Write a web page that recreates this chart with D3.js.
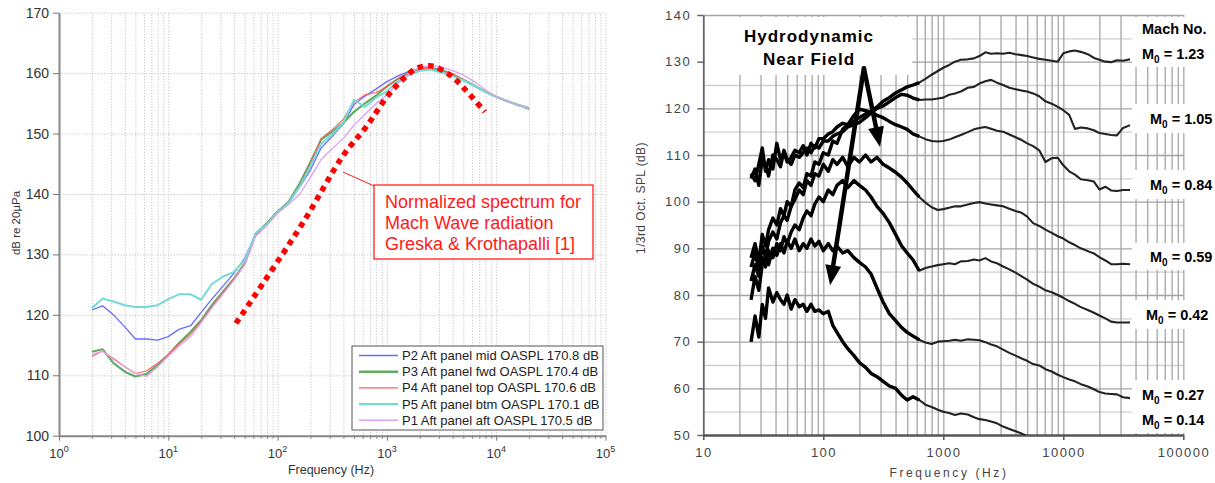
<!DOCTYPE html>
<html><head><meta charset="utf-8">
<script src="https://cdn.jsdelivr.net/npm/d3@7"></script>
<style>
body{margin:0;background:#fff}
svg{display:block}
text{font-family:Arial,"Liberation Sans",sans-serif}
</style>
</head><body>
<svg id="c" width="1215" height="483"></svg>
<script>
// ---------------- LEFT CHART DATA ----------------
const leftFreq = [2,2.5,3.15,4,5,6.3,8,10,12.5,16,20,25,31.5,40,50,63,80,100,125,160,200,250,315,400,500,630,800,1000,1250,1600,2000,2500,3150,4000,5000,6300,8000,10000,12500,16000,20000];
const p2Mid = [120.8,121.5,120.0,118.0,116.0,116.0,115.8,116.4,117.6,118.2,120.4,122.6,124.7,126.9,129.4,133.3,135.0,137.0,138.5,141.2,144.0,147.6,149.5,151.6,154.8,156.2,157.4,158.6,159.5,160.3,160.8,160.9,160.6,159.8,158.9,157.9,156.9,156.1,155.4,154.7,154.0];
const p3Fwd = [113.9,114.3,112.0,110.6,109.8,110.2,111.7,113.4,115.3,117.2,119.1,121.6,123.8,126.0,128.5,133.4,135.2,137.1,138.6,141.8,145.3,149.0,150.3,151.8,153.6,155.0,156.3,157.8,159.0,160.1,160.7,160.8,160.5,159.8,158.9,157.9,156.9,156.1,155.4,154.7,154.2];
const p4Top = [113.1,114.0,112.8,111.4,110.3,110.7,112.0,113.4,115.1,116.8,118.9,121.3,123.6,125.9,128.4,133.3,135.1,137.0,138.5,141.5,145.0,149.2,150.6,152.4,155.2,156.4,156.8,157.8,159.0,160.1,160.7,160.8,160.4,159.8,158.9,157.9,156.9,156.1,155.4,154.7,154.2];
const p5Btm = [121.1,122.7,122.2,121.6,121.3,121.3,121.6,122.6,123.4,123.4,122.5,125.1,126.3,127.1,129.1,133.5,135.0,137.0,138.4,141.3,144.6,148.3,149.8,151.8,155.6,154.4,156.0,157.0,158.6,159.7,160.4,160.6,160.1,159.5,158.8,157.9,156.9,156.1,155.4,154.7,154.2];
const p1Aft = [113.4,114.0,112.6,111.4,110.3,109.8,111.4,113.2,114.8,116.4,118.7,121.1,123.4,125.8,128.3,133.0,134.8,136.8,138.2,140.0,142.8,145.7,147.5,149.2,151.4,153.2,155.0,156.4,158.2,160.0,160.9,161.3,161.0,160.4,159.7,158.6,157.2,156.1,155.4,154.7,154.2];
const legendNames = ["P2 Aft panel mid OASPL 170.8 dB","P3 Aft panel fwd OASPL 170.4 dB","P4 Aft panel top OASPL 170.6 dB","P5 Aft panel btm OASPL 170.1 dB","P1 Aft panel aft OASPL 170.5 dB"];
const greskaFreq = [41.6,166,396,653,1002,1403,1875,2570,3260,4027,4834,5757,7890];
const greskaDb = [118.6,134.9,146.3,151.2,156.1,159.0,160.8,161.2,160.4,159.3,157.9,156.4,153.6];
const leftYTicks = [100,110,120,130,140,150,160,170];
const leftXDecades = [1,10,100,1000,10000,100000];
const leftXExp = ["0","1","2","3","4","5"];
const noteLines = ["Normalized spectrum for","Mach Wave radiation","Greska & Krothapalli [1]"];

// ---------------- RIGHT CHART DATA ----------------
const rightFreq = [25,27,29,31,33,35,38,41,44,47,50,54,58,63,68,73,79,85,92,100,110,120,130,145,160,180,200,225,250,280,315,355,400,450,500,560,630,710,800,900,1000,1120,1250,1400,1600,1800,2000,2240,2500,2800,3150,3550,4000,4500,5000,5600,6300,7100,8000,9000,10000,11200,12500,14000,16000,18000,20000,22400,25000,28000,31500,36000];
const m123 = [106,104.5,108,111.5,106.5,109,107,112.5,109,110.5,108.5,109.5,111,110.5,112,110,112.5,111.5,113.5,113.5,114.5,115,116,116.8,116.5,117.2,118,118.8,119.3,120.3,121.5,122.3,123.3,124,124.6,125,125.5,126.3,127.2,128,128.7,129.3,130,130.4,130.5,130.7,131.2,132,131.7,131.8,131.7,131.9,131.6,131.4,131.2,130.9,130.6,130.4,130.2,130.0,131.8,132.2,132.4,132.1,131.6,130.8,130.4,130.0,129.9,130.3,130.2,130.5];
const m105 = [105,107,103.5,109,108,105.5,110,109,107.5,111,109,108,110,109.5,110.5,111.5,110.5,112,111.5,113,113,114,114.5,115,116,116.5,117,118,119,120,120.5,121.4,122.3,123,122.8,122.2,121.8,121.9,121.9,122.1,122.3,122.9,123.2,123.6,124.4,124.6,125.3,125.8,126.1,125.5,125,124.4,124.1,123.8,123.6,123.2,122.6,121.5,121.0,120.3,119.6,118.6,115.6,115.9,115.7,115.3,114.7,114.5,114.3,114.2,115.8,116.4];
const m084 = [88,91,87,93,90.5,94,96.5,95,98.5,97,100,99,102.5,104,103,106,105.5,108.5,108,110.5,110,113,112.5,115.5,116.5,118.5,119.8,119.5,119.2,118.5,118,117.2,116.5,116,115.5,114.5,114,113.4,113,112.9,113,113.3,113.8,114.3,114.9,115.5,115.8,116.0,115.6,115.2,115.0,114.4,113.8,113.2,112.5,111.9,111.0,108.5,109.3,109.4,107.8,106.5,105.8,104.8,104.6,104.3,102.6,103.2,102.4,102.3,102.5,102.5];
const m059 = [86,89,85.5,90.5,88,91.5,93.5,92,95.5,97,96,99,100.5,102.5,101.5,104.5,103.5,106,105.5,108,106.5,109,108,109.5,107.5,109.5,108.5,110,108.5,109.5,108,107.2,106.3,105.2,104,102.5,101,99.8,98.8,98.2,98.4,98.7,99.0,99.0,99.4,99.7,99.9,99.6,99.4,99.2,99.0,98.5,98.0,97.6,96.8,95.4,94.8,94.0,93.3,92.6,92.1,91.3,90.7,90.0,89.4,88.9,88.1,87.4,86.6,86.6,86.7,86.6];
const m042 = [83,86.5,84,88,86,89.5,88,91,89.5,92.5,91,93.5,95,94,96.5,98,97,99.5,101,100,102.5,101.5,103.5,104.5,103,104.5,103.5,102.5,101,99,97.5,95.5,93,90.5,89,87.5,85.2,85.8,86.1,86.4,86.6,86.8,86.6,87.2,87.3,87.6,87.4,87.9,87.2,86.8,86.1,85.5,84.8,84.0,83.3,82.4,81.8,81.0,80.6,80.0,79.4,78.7,78.1,77.4,76.8,76.2,75.6,75.0,74.3,74.1,74.1,74.1];
const m027 = [79,84,81,86.5,88,86.5,90,88.5,91,89,91.5,90,92,89.5,91,90,92,90.5,91.5,89.5,91,89.5,90.5,89,89.5,88,87,86,84.5,81.5,78.5,76,74.5,73,72,71.2,70.4,69.8,69.5,70,70.1,70.2,70.4,70.2,70.5,70.4,70.3,69.9,69.4,69.0,68.3,67.6,67.0,66.4,65.9,65.2,64.9,64.1,63.6,62.9,62.4,61.9,61.5,60.9,60.4,59.8,59.2,58.9,58.8,58.7,58.1,57.9];
const m014 = [70,75.5,71,78,75,81.5,78.5,80.5,79,78,80,77,79,77.5,78,76.5,78,76.5,76.8,76,76.5,73.5,72,70,68.5,67,65.5,64.5,63.2,62.5,61.5,60.5,60,58.5,57.5,58.2,57.5,56.5,56,55.4,55,54.7,54.3,54.6,54.4,53.8,53.4,53.2,52.9,52.5,51.8,51.3,50.8,50.3,49.8];
const machValues = ["1.23","1.05","0.84","0.59","0.42","0.27","0.14"];
const rightYTicks = [50,60,70,80,90,100,110,120,130,140];
const rightXTicks = [10,100,1000,10000,100000];

// ---------------- DRAW ----------------
const svg = d3.select("#c");
svg.append("rect").attr("width",1215).attr("height",483).attr("fill","#fff");

// LEFT
const L = {x0:59, x1:605.5, y0:12.7, y1:435.7};
const xL = d3.scaleLog().domain([1,1e5]).range([L.x0,L.x1]);
const yL = d3.scaleLinear().domain([100,170]).range([L.y1,L.y0]);
const gL = svg.append("g");

gL.append("g").attr("transform",`translate(0,${L.y1})`)
  .call(d3.axisBottom(xL).tickValues(xL.ticks()).tickSize(-(L.y1-L.y0)).tickFormat(""))
  .call(g=>g.select(".domain").remove())
  .selectAll("line").attr("stroke","#bdbdbd").attr("stroke-width",0.9).attr("stroke-dasharray","1.2,1.6");
gL.append("g").attr("transform",`translate(${L.x0},0)`)
  .call(d3.axisLeft(yL).tickValues(leftYTicks).tickSize(-(L.x1-L.x0)).tickFormat(""))
  .call(g=>g.select(".domain").remove())
  .selectAll("line").attr("stroke","#bdbdbd").attr("stroke-width",0.9).attr("stroke-dasharray","1.2,1.6");

const minorL = xL.ticks().filter(v=>!leftXDecades.includes(v));
gL.append("g").attr("transform",`translate(0,${L.y1})`)
  .call(d3.axisBottom(xL).tickValues(minorL).tickSize(3).tickFormat(""))
  .call(g=>g.select(".domain").remove())
  .selectAll("line").attr("stroke","#777");
const axB = gL.append("g").attr("transform",`translate(0,${L.y1})`)
  .call(d3.axisBottom(xL).tickValues(leftXDecades).tickSize(5).tickSizeOuter(0).tickFormat(""));
axB.select(".domain").attr("stroke","#888").attr("stroke-width",2);
axB.selectAll(".tick line").attr("stroke","#777");
leftXDecades.forEach((v,i)=>{
  const t = gL.append("text").attr("x",xL(v)).attr("y",458).attr("text-anchor","middle")
    .attr("font-size",13).attr("fill","#333");
  t.append("tspan").text("10");
  t.append("tspan").attr("dy",-6).attr("font-size",9).text(leftXExp[i]);
});
const axL = gL.append("g").attr("transform",`translate(${L.x0},0)`)
  .call(d3.axisLeft(yL).tickValues(leftYTicks).tickSize(6).tickSizeOuter(0).tickPadding(4));
axL.select(".domain").attr("stroke","#888").attr("stroke-width",2);
axL.selectAll(".tick line").attr("stroke","#777");
axL.selectAll(".tick text").attr("font-size",14).attr("fill","#333").attr("font-family","Arial,'Liberation Sans',sans-serif");

gL.append("text").attr("transform",`translate(20,223) rotate(-90)`).attr("text-anchor","middle")
  .attr("font-size",11.5).attr("fill","#333").text("dB re 20\u00B5Pa");
gL.append("text").attr("x",331).attr("y",474).attr("text-anchor","middle")
  .attr("font-size",12.5).attr("fill","#333").text("Frequency (Hz)");

const leftSeries = [
  {vals:p2Mid, color:"#6b6bff", w:1.3, name:legendNames[0]},
  {vals:p3Fwd, color:"#62ab62", w:2.2, name:legendNames[1]},
  {vals:p4Top, color:"#ff5c5c", w:1.1, name:legendNames[2]},
  {vals:p5Btm, color:"#74d9d9", w:2.0, name:legendNames[3]},
  {vals:p1Aft, color:"#dca2ee", w:1.3, name:legendNames[4]}
];
const lineL = d3.line().x(d=>xL(d[0])).y(d=>yL(d[1]));
leftSeries.forEach(s=>{
  gL.append("path").attr("d",lineL(leftFreq.map((f,i)=>[f,s.vals[i]])))
    .attr("fill","none").attr("stroke",s.color).attr("stroke-width",s.w).attr("stroke-linejoin","round");
});

gL.append("path").attr("d",d3.line().curve(d3.curveCatmullRom).x(d=>xL(d[0])).y(d=>yL(d[1]))(greskaFreq.map((f,i)=>[f,greskaDb[i]])))
  .attr("fill","none").attr("stroke","#ff0000").attr("stroke-width",5.5).attr("stroke-dasharray","5.5,5");

gL.append("line").attr("x1",343).attr("y1",172).attr("x2",374).attr("y2",186).attr("stroke","#ff2020").attr("stroke-width",1);
gL.append("rect").attr("x",374).attr("y",185).attr("width",219).attr("height",74).attr("fill","#fff").attr("stroke","#ff2020").attr("stroke-width",1.3);
noteLines.forEach((t,i)=>gL.append("text").attr("x",385).attr("y",207.5+i*21).attr("font-size",18).attr("fill","#ff1a1a").text(t));

gL.append("rect").attr("x",352).attr("y",346).attr("width",251).attr("height",84).attr("fill","#fff").attr("stroke","#555").attr("stroke-width",1);
leftSeries.forEach((s,i)=>{
  const cy = 355.5 + i*16.2;
  gL.append("line").attr("x1",359).attr("x2",398).attr("y1",cy).attr("y2",cy).attr("stroke",s.color).attr("stroke-width",s.w+0.3);
  gL.append("text").attr("x",402).attr("y",cy+4.5).attr("font-size",13).attr("fill","#222").text(s.name);
});

// RIGHT
const R = {x0:703.3, x1:1183.3, y0:15, y1:435};
const xR = d3.scaleLog().domain([10,1e5]).range([R.x0,R.x1]);
const yR = d3.scaleLinear().domain([50,140]).range([R.y1,R.y0]);
const gR = svg.append("g");
const five = d3.range(50,141,5);
gR.append("g").attr("transform",`translate(${R.x0},0)`)
  .call(d3.axisLeft(yR).tickValues(five.filter(v=>v%10)).tickSize(-(R.x1-R.x0)).tickFormat(""))
  .call(g=>g.select(".domain").remove())
  .selectAll("line").attr("stroke","#cfcfcf").attr("stroke-width",1.4);
gR.append("g").attr("transform",`translate(0,${R.y1})`)
  .call(d3.axisBottom(xR).tickValues(xR.ticks().filter(v=>v>10)).tickSize(-(R.y1-R.y0)).tickFormat(""))
  .call(g=>g.select(".domain").remove())
  .selectAll("line").attr("stroke","#ababab").attr("stroke-width",1.4);
gR.append("g").attr("transform",`translate(${R.x0},0)`)
  .call(d3.axisLeft(yR).tickValues(rightYTicks.filter(v=>v>50)).tickSize(-(R.x1-R.x0)).tickFormat(""))
  .call(g=>g.select(".domain").remove())
  .selectAll("line").attr("stroke","#a3a3a3").attr("stroke-width",1.4);

gR.append("rect").attr("x",R.x0+1.5).attr("y",17).attr("width",xR(550)-R.x0-1.5).attr("height",58).attr("fill","#fff");
const boxes = [[17,67],[104,133],[170,199],[243,270],[300,329],[380,433]];
boxes.forEach(b=>gR.append("rect").attr("x",1132).attr("y",b[0]).attr("width",83).attr("height",b[1]-b[0]).attr("fill","#fff"));

const axRL = gR.append("g").attr("transform",`translate(${R.x0},0)`)
  .call(d3.axisLeft(yR).tickValues(rightYTicks).tickSize(6).tickSizeOuter(0).tickPadding(6));
axRL.select(".domain").attr("stroke","#666").attr("stroke-width",1.8);
axRL.selectAll(".tick line").attr("stroke","#666").attr("stroke-width",1.5);
axRL.selectAll(".tick text").attr("font-size",13).attr("fill","#444").attr("letter-spacing","1.5px")
  .attr("font-family","Arial,'Liberation Sans',sans-serif");
const axRB = gR.append("g").attr("transform",`translate(0,${R.y1})`)
  .call(d3.axisBottom(xR).tickValues(rightXTicks).tickSize(5).tickSizeOuter(0).tickFormat(""));
axRB.select(".domain").attr("stroke","#555").attr("stroke-width",2.5);
axRB.selectAll(".tick line").attr("stroke","#555").attr("stroke-width",1.5);
rightXTicks.forEach(v=>gR.append("text").attr("x",xR(v)+0.7).attr("y",457).attr("text-anchor","middle")
  .attr("font-size",13).attr("letter-spacing","1.5px").attr("fill","#444").text(String(v)));
gR.append("text").attr("x",949).attr("y",477).attr("text-anchor","middle").attr("font-size",12)
  .attr("letter-spacing","2.6px").attr("fill","#444").text("Frequency (Hz)");
gR.append("text").attr("transform",`translate(645,198) rotate(-90)`).attr("text-anchor","middle")
  .attr("font-size",12).attr("letter-spacing","0.4px").attr("fill","#444").text("1/3rd Oct. SPL (dB)");

svg.append("defs").append("clipPath").attr("id","rc").append("rect")
  .attr("x",R.x0).attr("y",R.y0).attr("width",R.x1-R.x0).attr("height",R.y1-R.y0);
const lineR = d3.line().x(d=>xR(d[0])).y(d=>yR(d[1]));
const curvesR = [m123,m105,m084,m059,m042,m027,m014];
const gC = gR.append("g").attr("clip-path","url(#rc)");
curvesR.forEach(vals=>{
  const pts = vals.map((v,i)=>[rightFreq[i],v]);
  gC.append("path").attr("d",lineR(pts))
    .attr("fill","none").attr("stroke","#222").attr("stroke-width",2.1).attr("stroke-linejoin","round");
  // noisier low-frequency portion drawn heavier, as in the scanned original
  gC.append("path").attr("d",lineR(pts.filter(p=>p[0]<=700)))
    .attr("fill","none").attr("stroke","#000").attr("stroke-width",3.4).attr("stroke-linejoin","round");
});

gR.append("text").attr("x",809).attr("y",41.5).attr("text-anchor","middle").attr("font-size",17)
  .attr("font-weight","bold").attr("letter-spacing","1px").attr("fill","#000").text("Hydrodynamic");
gR.append("text").attr("x",809).attr("y",65).attr("text-anchor","middle").attr("font-size",17)
  .attr("font-weight","bold").attr("letter-spacing","1px").attr("fill","#000").text("Near Field");
const arrowOrigin = [218,128.6];
const arrowTips = [[297,111.7],[114,82.1]];
arrowTips.forEach(t=>{
  const x0 = xR(arrowOrigin[0]), y0 = yR(arrowOrigin[1]);
  const x1 = xR(t[0]), y1 = yR(t[1]);
  const ang = Math.atan2(y1-y0,x1-x0);
  const hl = 20, hw = 8;
  const bx = x1 - hl*Math.cos(ang), by = y1 - hl*Math.sin(ang);
  gR.append("line").attr("x1",x0).attr("y1",y0).attr("x2",bx).attr("y2",by)
    .attr("stroke","#000").attr("stroke-width",4.5).attr("stroke-linecap","round");
  const px = -Math.sin(ang), py = Math.cos(ang);
  gR.append("path").attr("d",`M${x1},${y1}L${bx+hw*px},${by+hw*py}L${bx-hw*px},${by-hw*py}Z`).attr("fill","#000");
});

gR.append("text").attr("x",1142).attr("y",33.5).attr("font-size",14.5).attr("font-weight","bold").text("Mach No.");
const machPos = [[1142,58.5],[1150,124],[1150,190],[1150,262],[1146,320],[1142,400],[1142,424.5]];
machValues.forEach((m,i)=>{
  const t = gR.append("text").attr("x",machPos[i][0]).attr("y",machPos[i][1]).attr("font-size",14.5).attr("font-weight","bold");
  t.append("tspan").text("M");
  t.append("tspan").attr("font-size",10).attr("dy",4).text("0");
  t.append("tspan").attr("dy",-4).text(" = "+m);
});
</script>
</body></html>
